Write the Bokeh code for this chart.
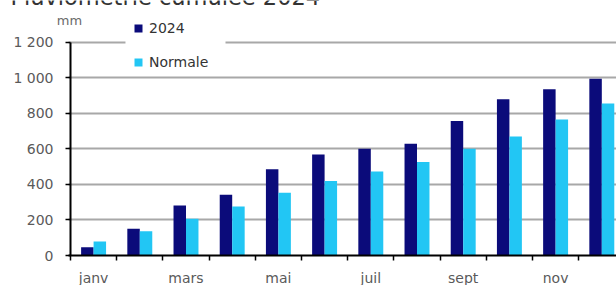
from bokeh.plotting import figure
from bokeh.models import (ColumnDataSource, Range1d, FixedTicker, Legend, LegendItem, Label,
                          BoxAnnotation)
from bokeh.transform import dodge
from bokeh.embed import file_html
from bokeh.resources import INLINE

months = [1, 2, 3, 4, 5, 6, 7, 8, 9, 10, 11, 12]
month_labels = {1: "janv", 3: "mars", 5: "mai", 7: "juil", 9: "sept", 11: "nov"}
rain_2024 = [47, 150, 282, 342, 485, 569, 601, 629, 757, 879, 935, 995]
rain_normal = [79, 137, 207, 276, 353, 419, 473, 526, 601, 670, 766, 855]
y_ticks = [0, 200, 400, 600, 800, 1000, 1200]
y_tick_labels = {0: "0", 200: "200", 400: "400", 600: "600", 800: "800",
                 1000: "1 000", 1200: "1 200"}
title_text = "Pluviométrie cumulée 2024"
unit_text = "mm"

DARK = "#0b0b7a"
LIGHT = "#22c6f4"
TXT = "#5a5a5a"
FONT = "DejaVu Sans"

src = ColumnDataSource(dict(x=months, a=rain_2024, b=rain_normal))

p = figure(width=616, height=285, output_backend="svg", toolbar_location=None,
           x_range=Range1d(-1.015, 12.318), y_range=Range1d(-168.8, 1435),
           min_border_left=0, min_border_right=0, min_border_top=0,
           min_border_bottom=0, outline_line_color=None, title=None)
p.background_fill_color = "white"
p.border_fill_color = "white"

r1 = p.vbar(x=dodge("x", -0.135, range=p.x_range), top="a", width=0.27,
            source=src, fill_color=DARK, line_color=None)
r2 = p.vbar(x=dodge("x", 0.135, range=p.x_range), top="b", width=0.27,
            source=src, fill_color=LIGHT, line_color=None)

# y axis, drawn at the left edge of the first month
p.yaxis.fixed_location = 0.5
p.yaxis.ticker = FixedTicker(ticks=y_ticks)
p.yaxis.major_label_overrides = y_tick_labels
p.yaxis.bounds = (0, 1200)
p.yaxis.axis_line_color = "black"
p.yaxis.axis_line_width = 2
p.yaxis.major_tick_out = 5
p.yaxis.major_tick_in = 0
p.yaxis.major_tick_line_color = "black"
p.yaxis.major_tick_line_width = 1.5
p.yaxis.minor_tick_line_color = None
p.yaxis.major_label_standoff = 12
p.yaxis.major_label_text_font = FONT
p.yaxis.major_label_text_font_size = "14px"
p.yaxis.major_label_text_color = TXT

# x axis, drawn at zero
p.xaxis.fixed_location = 0
p.xaxis.ticker = FixedTicker(ticks=list(month_labels.keys()),
                             minor_ticks=[m - 0.5 for m in months] + [12.5])
p.xaxis.major_label_overrides = month_labels
p.xaxis.bounds = (0.45, 12.5)
p.xaxis.axis_line_color = "black"
p.xaxis.axis_line_width = 2
p.xaxis.major_tick_out = 0
p.xaxis.major_tick_in = 0
p.xaxis.minor_tick_out = 5
p.xaxis.minor_tick_in = 0
p.xaxis.minor_tick_line_color = "black"
p.xaxis.minor_tick_line_width = 1.5
p.xaxis.major_label_standoff = 9
p.xaxis.major_label_text_font = FONT
p.xaxis.major_label_text_font_size = "14px"
p.xaxis.major_label_text_color = TXT

# grid
p.xgrid.grid_line_color = None
p.ygrid.ticker = FixedTicker(ticks=y_ticks[1:])
p.ygrid.cross_bounds = (0.45, 12.318)
p.ygrid.grid_line_color = "#a8a8a8"
p.ygrid.grid_line_width = 2

# white legend area that interrupts the top grid line
p.add_layout(BoxAnnotation(left=1.69, right=3.855, bottom=1013, top=1350,
                           fill_color="white", fill_alpha=1.0, line_color=None,
                           level="underlay"))

# legend
legend = Legend(items=[LegendItem(label="2024", renderers=[r1]),
                       LegendItem(label="Normale", renderers=[r2])],
                location=(133, 215), orientation="vertical",
                glyph_width=10, glyph_height=10, label_height=14,
                label_width=60, spacing=18, padding=6, margin=0,
                label_standoff=6,
                label_text_font=FONT, label_text_font_size="14px",
                label_text_color="#333333",
                border_line_color=None, background_fill_alpha=0.0)
p.add_layout(legend, "center")

# title (cut at the top of the picture, as in the reference) and unit
p.add_layout(Label(x=-0.8, y=1457, text=title_text, text_font=FONT,
                   text_font_size="22.5px", text_color="#333333",
                   text_baseline="alphabetic", text_align="left"))
p.add_layout(Label(x=0.478, y=1325, text=unit_text, text_font=FONT,
                   text_font_size="13px", text_color="#6a6a6a",
                   text_baseline="alphabetic", text_align="center"))

open("out.html", "w").write(file_html(p, INLINE))
